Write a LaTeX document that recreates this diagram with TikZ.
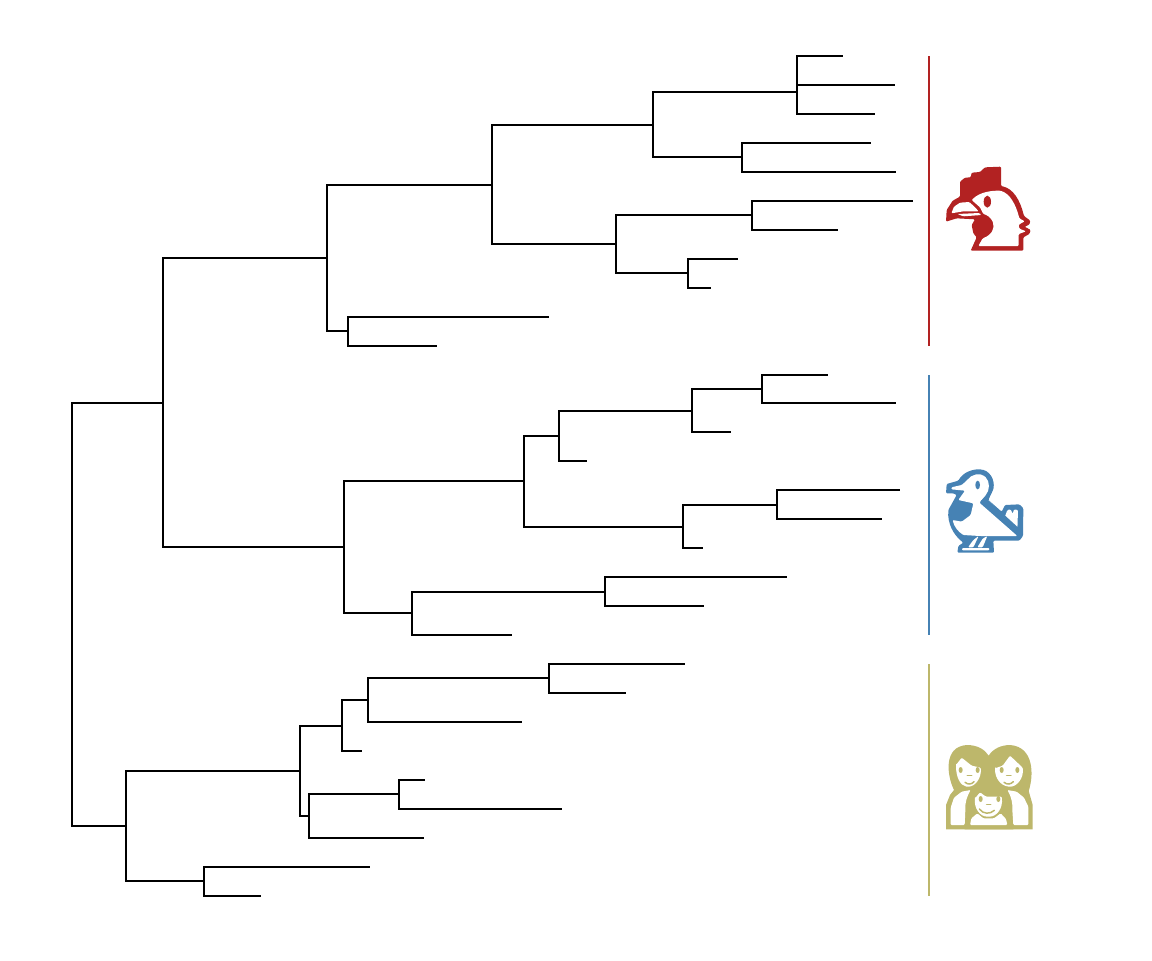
\documentclass[tikz,border=0pt]{standalone}
\definecolor{fowlred}{RGB}{178, 34, 34}
\definecolor{dodoblue}{RGB}{70, 130, 180}
\definecolor{familykhaki}{RGB}{189, 183, 107}
\usetikzlibrary{positioning}

\begin{document}
\begin{tikzpicture}[
  x=0.75pt, y=-0.75pt,
  branch/.style={line width=1.75pt, black},
  cladebar/.style={line width=1.5pt, draw=#1},
  iconscope/.style={x=0.25pt, y=-0.25pt, rounded corners=0.8pt},
  hole/.style={fill=white, draw=none},
  smile/.style={draw=familykhaki, line width=1.1pt, line cap=round},
]
  \useasboundingbox (0, 0) rectangle (1152, 960);
  % tree
  \foreach \name/\px/\py in {
    a1/843/56, a2/895/85, a3/875/114, a4/871/143, a5/896/172,
    a6/913/201, a7/838/230, a8/738/259, a9/711/288, a10/549/317, a11/437/346,
    aa/797/92, ab/742/157, ac/653/125, ad/752/215, ae/688/273, af/616/244,
    ag/492/185, ah/348/331, ai/327/258,
    b1/828/375, b2/896/403, b3/731/432, b4/587/461, b5/900/490, b6/882/519,
    b7/703/548, b8/787/577, b9/704/606, b10/512/635,
    ba/762/389, bb/692/411, bc/559/436, bd/777/505, be/683/527, bf/524/481,
    bg/605/592, bh/412/613, bi/344/547,
    c1/685/664, c2/626/693, c3/522/722, c4/362/751, c5/425/780, c6/562/809,
    c7/424/838, c8/370/867, c9/261/896,
    ca/549/678, cb/368/700, cc/342/726, cd/399/794, ce/309/816, cf/300/771,
    cg/204/881, ch/126/826,
    mid/163/403, root/72/614.5}
    \coordinate (\name) at (\px, \py);
  \foreach \from/\to in {
    aa/a1, aa/a2, aa/a3, ab/a4, ab/a5, ac/aa, ac/ab,
    ad/a6, ad/a7, ae/a8, ae/a9, af/ad, af/ae, ag/ac, ag/af,
    ah/a10, ah/a11, ai/ag, ai/ah,
    ba/b1, ba/b2, bb/ba, bb/b3, bc/bb, bc/b4,
    bd/b5, bd/b6, be/bd, be/b7, bf/bc, bf/be,
    bg/b8, bg/b9, bh/bg, bh/b10, bi/bf, bi/bh,
    ca/c1, ca/c2, cb/ca, cb/c3, cc/cb, cc/c4,
    cd/c5, cd/c6, ce/cd, ce/c7, cf/cc, cf/ce,
    cg/c8, cg/c9, ch/cf, ch/cg,
    mid/ai, mid/bi, root/mid, root/ch}
    \draw[branch] (\from) |- (\to);
  % bars
  \coordinate (bar1a) at (928.5, 56);
  \coordinate (bar1b) at (928.5, 346);
  \coordinate (bar2a) at (928.5, 375);
  \coordinate (bar2b) at (928.5, 635);
  \coordinate (bar3a) at (928.5, 664);
  \coordinate (bar3b) at (928.5, 896);
  \draw[cladebar=fowlred] (bar1a) -- (bar1b);
  \draw[cladebar=dodoblue] (bar2a) -- (bar2b);
  \draw[cladebar=familykhaki] (bar3a) -- (bar3b);
  % chicken
  \begin{scope}[shift={(930, 150)}, iconscope]
    \fill[fowlred] (48,215) -- (50,180) -- (68,152) -- (90,140) -- (90,95) -- (105,83) -- (122,82) -- (125,68) -- (150,66) -- (165,52) -- (213,50) -- (213,108)
      .. controls (250,115) and (270,150) .. (282,198) -- (301,212) -- (298,224) -- (284,230) -- (302,240) -- (298,252) -- (280,262) -- (280,302) -- (122,302) -- (140,262)
      -- (130,250) -- (125,225) -- (135,208) -- (80,205) -- cycle;
    \fill[hole] (125,150) .. controls (150,125) and (185,122) .. (210,122)
      .. controls (240,130) and (258,165) .. (268,205) -- (284,214) -- (266,224) -- (268,236) -- (288,244) -- (266,252) -- (266,288) -- (145,288) -- (158,265)
      .. controls (185,255) and (195,235) .. (188,215) .. controls (180,200) and (170,195) .. (160,192) -- (150,172) -- cycle;
    \fill[hole] (64,190) -- (72,170) -- (90,158) -- (118,156) -- (135,172) -- (146,184) -- (100,184) -- cycle;
    \fill[hole] (82,192) -- (148,189) -- (154,195) -- (100,199) -- cycle;
    \fill[fowlred] (172,155) ellipse [x radius=11, y radius=18];
  \end{scope}
  % dodo
  \begin{scope}[shift={(930, 460)}, iconscope]
    \fill[dodoblue] (48,100) -- (50,72) -- (85,62) .. controls (100,35) and (130,28) .. (148,28)
      .. controls (180,30) and (195,60) .. (190,88) -- (175,120) -- (215,155) -- (225,135) -- (268,133) -- (280,145) -- (279,228) -- (268,242) -- (190,242)
      -- (192,278) -- (82,278) -- (85,258) -- (100,248) .. controls (70,225) and (52,190) .. (55,150) -- (80,105) -- (70,100) -- cycle;
    \fill[hole] (64,88) -- (64,82) -- (95,75) -- (110,62) .. controls (125,42) and (150,38) .. (165,50) .. controls (180,65) and (180,90) .. (165,108)
      -- (148,128) -- (262,228) -- (150,228) -- (100,225) .. controls (85,215) and (72,200) .. (68,180) -- (95,185) -- (122,165) -- (130,130) -- (85,120) -- (105,92) -- cycle;
    \fill[hole] (172,118) -- (212,175) -- (262,210) -- (264,150) -- (252,148) -- (248,162) -- (242,148) -- (232,150) -- (224,172) -- cycle;
    \fill[dodoblue] (150,125) -- (165,112) -- (278,215) -- (268,228) -- cycle;
    \fill[hole] (130,240) -- (146,228) -- (130,262) -- (114,262) -- cycle;
    \fill[hole] (158,236) -- (172,228) -- (158,262) -- (142,262) -- cycle;
    \fill[hole] (96,264) -- (178,264) -- (178,271) -- (96,271) -- cycle;
    \fill[dodoblue] (143,75) ellipse [x radius=7, y radius=13];
  \end{scope}
  % family
  \begin{scope}[shift={(930, 735)}, iconscope]
    \fill[familykhaki] [sharp corners] (48,283) -- (48,210) -- (60,180) -- (72,165) .. controls (50,120) and (40,35) .. (110,30) .. controls (145,30) and (165,45) .. (176,62)
      .. controls (190,40) and (215,30) .. (240,30) .. controls (312,35) and (312,120) .. (296,168) -- (308,210) -- (308,283) -- cycle;
    \fill[hole] (78,90) -- (95,68) -- (125,92) -- (152,98) .. controls (155,130) and (135,155) .. (112,155) .. controls (90,152) and (78,125) .. (78,90) -- cycle;
    \fill[hole] (195,100) -- (218,92) -- (240,62) -- (278,98) .. controls (282,130) and (260,155) .. (238,155) .. controls (212,152) and (195,130) .. (195,100) -- cycle;
    \fill[hole] (62,270) -- (62,218) -- (72,188) -- (95,170) -- (122,165) .. controls (110,185) and (105,205) .. (106,225) -- (104,270) -- cycle;
    \fill[hole] (295,270) -- (295,215) -- (282,188) -- (260,170) -- (232,165) .. controls (244,185) and (248,205) .. (247,225) -- (250,270) -- cycle;
    \fill[familykhaki] [sharp corners] (104,283) -- (118,215) .. controls (118,165) and (145,135) .. (178,135) .. controls (212,138) and (234,170) .. (234,215) -- (250,283) -- cycle;
    \fill[hole] (135,190) -- (150,172) -- (168,185) -- (215,185) .. controls (220,220) and (200,245) .. (175,245) .. controls (150,245) and (132,220) .. (135,190) -- cycle;
    \fill[hole] (120,270) -- (124,250) -- (142,235) -- (160,250) -- (192,250) -- (212,235) -- (228,252) -- (232,270) -- cycle;
    \foreach \ex/\ey in {92/105, 143/105, 215/105, 262/105, 152/192, 205/192}
      \fill[familykhaki] (\ex,\ey) ellipse [x radius=6, y radius=9];
    \draw[smile] (105,142) .. controls (115,150) and (125,148) .. (132,140);
    \draw[smile] (222,142) .. controls (232,150) and (242,148) .. (250,140);
    \draw[smile] (148,222) .. controls (160,238) and (180,238) .. (193,226);
    \draw[smile] (112,122) -- (125,122);
    \draw[smile] (230,122) -- (243,122);
    \draw[smile] (170,208) -- (182,208);
  \end{scope}
\end{tikzpicture}
\end{document}
